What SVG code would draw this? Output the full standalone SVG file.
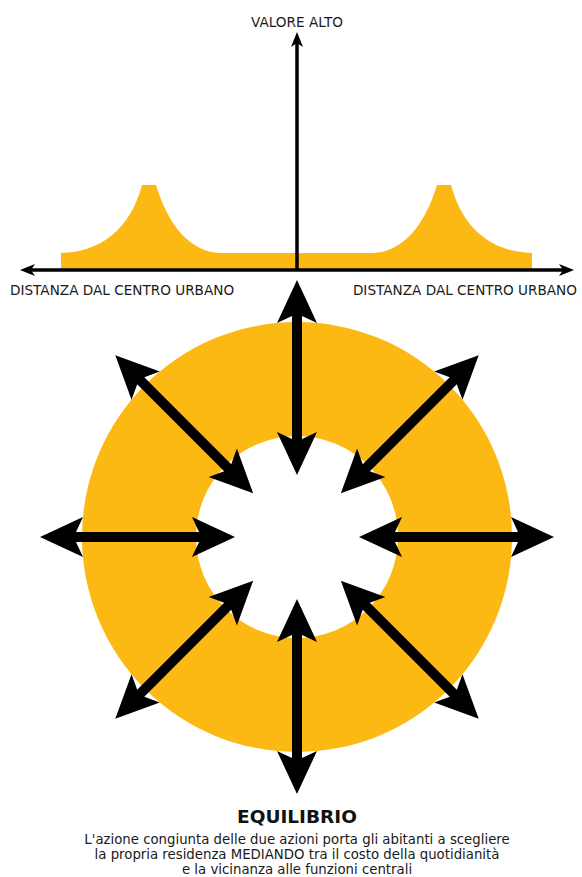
<svg xmlns="http://www.w3.org/2000/svg" xmlns:xlink="http://www.w3.org/1999/xlink" width="582" height="877" viewBox="0 0 582 877">
  <style>
    .lbl { font-family: "DejaVu Sans", Verdana, sans-serif; font-size: 13.6px; fill: #1a1a1a; }
    .cap { font-family: "DejaVu Sans", Verdana, sans-serif; font-size: 13.3px; fill: #1a1a1a; }
    .title { font-family: "DejaVu Sans", Verdana, sans-serif; font-size: 18.5px; font-weight: bold; fill: #111; }
    .yellow { fill: #FCB913; }
    .axis { stroke: #000; stroke-width: 3.5; fill: none; }
    .head { fill: #000; }
  </style>
  <defs>
    <path id="dblArrow" d="M554,537 L511,517 L518,532 L395,532 L402,517 L359,537 L402,557 L395,542 L518,542 L511,557 Z" fill="#000"/>
  </defs>
  <rect width="582" height="877" fill="#fff"/>

  <g id="chart">
    <path id="value-curve" class="yellow" d="M61,270 L61,253 C100,252 130,230 142,185 L156,185 C168,225 190,252 220,253 L373,253 C403,252 425,225 437,185 L451,185 C463,230 493,252 532,253 L532,270 Z"/>
    <g id="axes">
      <line class="axis" x1="30" y1="270" x2="565" y2="270"/>
      <line class="axis" x1="297" y1="270" x2="297" y2="42"/>
      <polygon class="head" points="20,270 35,264 31,270 35,276"/>
      <polygon class="head" points="574,270 559,264 563,270 559,276"/>
      <polygon class="head" points="297,32 291,47 297,43 303,47"/>
    </g>
    <text id="label-top" class="lbl" x="297" y="27" text-anchor="middle">VALORE ALTO</text>
    <text id="label-left" class="lbl" x="10" y="295">DISTANZA DAL CENTRO URBANO</text>
    <text id="label-right" class="lbl" x="577" y="295" text-anchor="end">DISTANZA DAL CENTRO URBANO</text>
  </g>

  <g id="ring">
    <path class="yellow" fill-rule="evenodd" d="M297,322 A215,215 0 1 1 297,752 A215,215 0 1 1 297,322 Z M297,436 A101,101 0 1 0 297,638 A101,101 0 1 0 297,436 Z"/>
  </g>

  <g id="arrows">
    <use xlink:href="#dblArrow" transform="rotate(0 297 537)"/>
    <use xlink:href="#dblArrow" transform="rotate(45 297 537)"/>
    <use xlink:href="#dblArrow" transform="rotate(90 297 537)"/>
    <use xlink:href="#dblArrow" transform="rotate(135 297 537)"/>
    <use xlink:href="#dblArrow" transform="rotate(180 297 537)"/>
    <use xlink:href="#dblArrow" transform="rotate(225 297 537)"/>
    <use xlink:href="#dblArrow" transform="rotate(270 297 537)"/>
    <use xlink:href="#dblArrow" transform="rotate(315 297 537)"/>
  </g>

  <g id="caption">
    <text class="title" x="297" y="823" text-anchor="middle">EQUILIBRIO</text>
    <text class="cap" x="297" y="844" text-anchor="middle">L'azione congiunta delle due azioni porta gli abitanti a scegliere</text>
    <text class="cap" x="297" y="859" text-anchor="middle">la propria residenza MEDIANDO tra il costo della quotidianità</text>
    <text class="cap" x="297" y="874" text-anchor="middle">e la vicinanza alle funzioni centrali</text>
  </g>
</svg>
